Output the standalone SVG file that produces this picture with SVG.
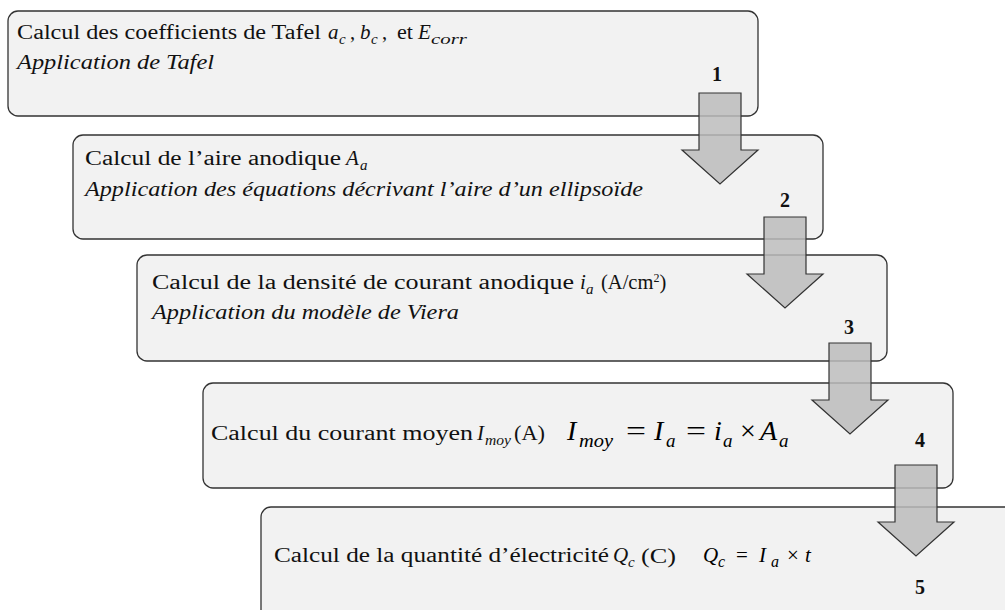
<svg xmlns="http://www.w3.org/2000/svg" width="1005" height="610" viewBox="0 0 1005 610">
<style>
.box{fill:#f2f2f2;stroke:#333;stroke-width:1.3}
.t{font-family:"Liberation Serif","Times New Roman",serif;font-size:20.5px;fill:#111}
.it{font-family:"Liberation Serif","Times New Roman",serif;font-size:20.5px;font-style:italic;fill:#111}
.m{font-family:"Liberation Serif","Times New Roman",serif;font-size:21px;font-style:italic;fill:#111}
.s{font-family:"Liberation Serif","Times New Roman",serif;font-size:15px;font-style:italic;fill:#111}
.fm{font-family:"Liberation Serif","Times New Roman",serif;font-size:28px;font-style:italic;fill:#000}
.fs{font-family:"Liberation Serif","Times New Roman",serif;font-size:19px;font-style:italic;fill:#000}
.fo{font-family:"Liberation Serif","Times New Roman",serif;font-size:28px;fill:#000}
.gm{font-family:"Liberation Serif","Times New Roman",serif;font-size:21px;font-style:italic;fill:#000}
.gs{font-family:"Liberation Serif","Times New Roman",serif;font-size:16px;font-style:italic;fill:#000}
.go{font-family:"Liberation Serif","Times New Roman",serif;font-size:21px;fill:#000}
.n{font-family:"Liberation Serif","Times New Roman",serif;font-size:20px;font-weight:bold;fill:#111;text-anchor:middle}
.arr{fill:#bcbcbc;fill-opacity:0.85;stroke:#333;stroke-width:1.2;stroke-linejoin:miter}
</style>
<rect width="1005" height="610" fill="#fff"/>
<g id="step1">
<rect class="box" x="8" y="11" width="750" height="105" rx="10"/>
<text class="t" x="17" y="39" textLength="304" lengthAdjust="spacingAndGlyphs">Calcul des coefficients de Tafel</text>
<text class="m" x="328" y="39">a</text><text class="s" x="339" y="44">c</text>
<text class="t" x="350" y="39">,</text>
<text class="m" x="360" y="39">b</text><text class="s" x="371" y="44">c</text>
<text class="t" x="382" y="39">,</text>
<text class="t" x="397" y="39" textLength="16" lengthAdjust="spacingAndGlyphs">et</text>
<text class="m" x="418" y="39">E</text><text class="s" x="431" y="44" textLength="36" lengthAdjust="spacingAndGlyphs">corr</text>
<text class="it" x="17" y="69" textLength="197" lengthAdjust="spacingAndGlyphs">Application de Tafel</text>
<text class="n" x="717" y="81">1</text>
</g>
<g id="step2">
<rect class="box" x="73" y="135" width="750" height="104" rx="10"/>
<text class="t" x="85" y="165" textLength="256" lengthAdjust="spacingAndGlyphs">Calcul de l’aire anodique</text>
<text class="m" x="346" y="165">A</text><text class="s" x="360" y="170">a</text>
<text class="it" x="85" y="196" textLength="558" lengthAdjust="spacingAndGlyphs">Application des équations décrivant l’aire d’un ellipsoïde</text>
<text class="n" x="785" y="207">2</text>
</g>
<g id="step3">
<rect class="box" x="137" y="255" width="750" height="106" rx="10"/>
<text class="t" x="152" y="289" textLength="422" lengthAdjust="spacingAndGlyphs">Calcul de la densité de courant anodique</text>
<text class="m" x="580" y="289">i</text><text class="s" x="586" y="294">a</text>
<text class="t" x="601" y="289">(A/cm<tspan dy="-7" font-size="12">2</tspan><tspan dy="7">)</tspan></text>
<text class="it" x="152" y="319" textLength="307" lengthAdjust="spacingAndGlyphs">Application du modèle de Viera</text>
<text class="n" x="849" y="334">3</text>
</g>
<g id="step4">
<rect class="box" x="203" y="383" width="750" height="105" rx="10"/>
<text class="t" x="211" y="440" textLength="262" lengthAdjust="spacingAndGlyphs">Calcul du courant moyen</text>
<text class="m" x="477" y="440">I</text><text class="s" x="485" y="445" textLength="26" lengthAdjust="spacingAndGlyphs">moy</text>
<text class="t" x="514" y="440" textLength="31" lengthAdjust="spacingAndGlyphs">(A)</text>
<text class="fm" x="567" y="440">I</text><text class="fs" x="579" y="447" textLength="34" lengthAdjust="spacingAndGlyphs">moy</text>
<text class="fo" x="626" y="440" textLength="20" lengthAdjust="spacingAndGlyphs">=</text>
<text class="fm" x="654" y="440">I</text><text class="fs" x="666" y="447">a</text>
<text class="fo" x="686" y="440" textLength="20" lengthAdjust="spacingAndGlyphs">=</text>
<text class="fm" x="714" y="440">i</text><text class="fs" x="723" y="447">a</text>
<text class="fo" x="740" y="440">×</text>
<text class="fm" x="760" y="440">A</text><text class="fs" x="779" y="447">a</text>
<text class="n" x="920" y="447">4</text>
</g>
<g id="step5">
<rect class="box" x="261" y="507" width="760" height="130" rx="10"/>
<text class="t" x="274" y="562" textLength="335" lengthAdjust="spacingAndGlyphs">Calcul de la quantité d’électricité</text>
<text class="m" x="613" y="562">Q</text><text class="s" x="628" y="567">c</text>
<text class="t" x="641" y="563" font-size="24" textLength="35" lengthAdjust="spacingAndGlyphs">(C)</text>
<text class="gm" x="703" y="562">Q</text><text class="gs" x="718" y="567">c</text>
<text class="go" x="736" y="562">=</text>
<text class="gm" x="759" y="562">I</text><text class="gs" x="771" y="567">a</text>
<text class="go" x="787" y="562">×</text>
<text class="gm" x="805" y="562">t</text>
<text class="n" x="920" y="594">5</text>
</g>
<g id="connectors">
<path class="arr" d="M699,93 H741 V150 H758 L720,184 L682,150 H699 Z"/>
<path class="arr" d="M764,217 H806 V274 H823 L785,308 L747,274 H764 Z"/>
<path class="arr" d="M829,343 H871 V400 H888 L850,434 L812,400 H829 Z"/>
<path class="arr" d="M895,465 H937 V522 H954 L916,556 L878,522 H895 Z"/>
</g>
</svg>
